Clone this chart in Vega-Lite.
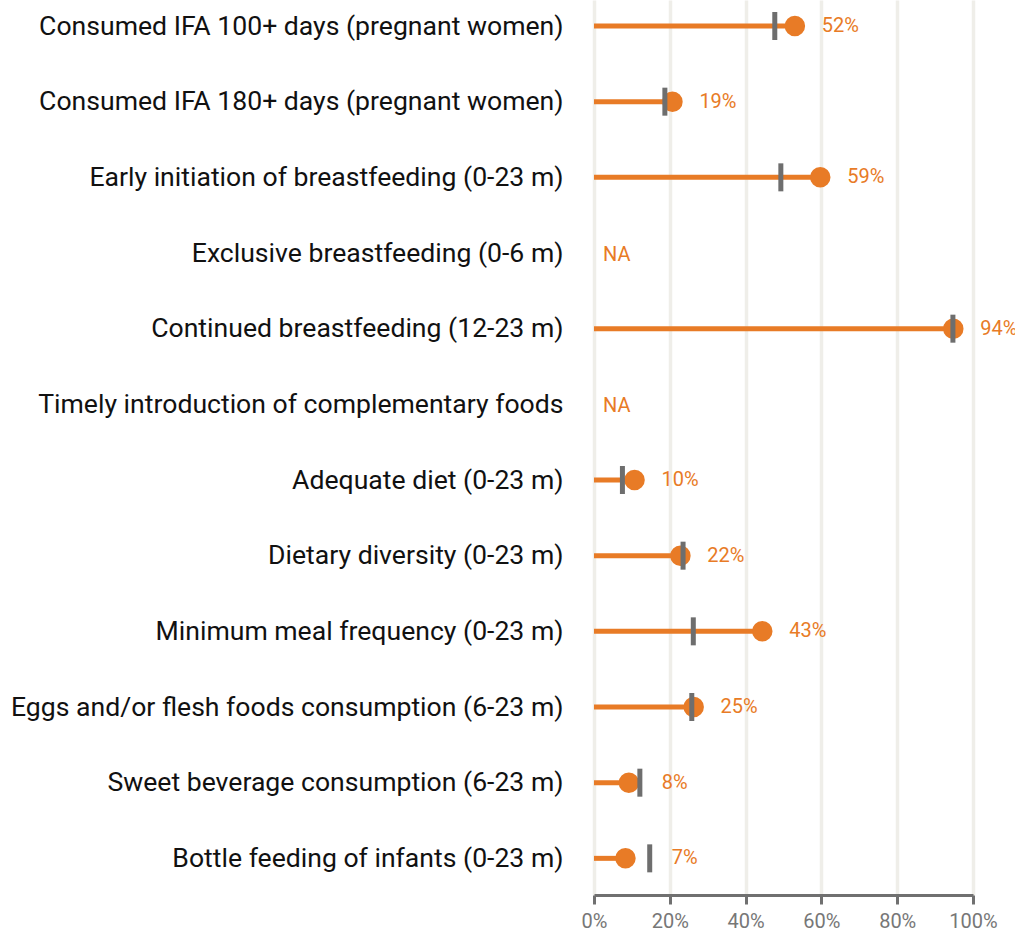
{
  "$schema": "https://vega.github.io/schema/vega-lite/v6.json",
  "width": 379,
  "height": 895,
  "autosize": {"type": "none"},
  "padding": {"left": 594, "top": 0, "right": 42, "bottom": 38},
  "background": "white",
  "config": {
    "font": "Roboto",
    "view": {"stroke": null}
  },
  "data": {
    "values": [
      {"indicator": "Consumed IFA 100+ days (pregnant women)", "value": 53.0, "bench": 47.7, "label": "52%"},
      {"indicator": "Consumed IFA 180+ days (pregnant women)", "value": 20.7, "bench": 18.7, "label": "19%"},
      {"indicator": "Early initiation of breastfeeding (0-23 m)", "value": 59.7, "bench": 49.3, "label": "59%"},
      {"indicator": "Exclusive breastfeeding (0-6 m)", "value": null, "bench": null, "label": "NA"},
      {"indicator": "Continued breastfeeding (12-23 m)", "value": 94.8, "bench": 94.7, "label": "94%"},
      {"indicator": "Timely introduction of complementary foods", "value": null, "bench": null, "label": "NA"},
      {"indicator": "Adequate diet (0-23 m)", "value": 10.7, "bench": 7.5, "label": "10%"},
      {"indicator": "Dietary diversity (0-23 m)", "value": 22.8, "bench": 23.5, "label": "22%"},
      {"indicator": "Minimum meal frequency (0-23 m)", "value": 44.4, "bench": 26.2, "label": "43%"},
      {"indicator": "Eggs and/or flesh foods consumption (6-23 m)", "value": 26.3, "bench": 25.8, "label": "25%"},
      {"indicator": "Sweet beverage consumption (6-23 m)", "value": 9.2, "bench": 12.1, "label": "8%"},
      {"indicator": "Bottle feeding of infants (0-23 m)", "value": 8.3, "bench": 14.7, "label": "7%"}
    ]
  },
  "transform": [
    {"calculate": "0", "as": "zero"},
    {"calculate": "isValid(datum.value) ? max(datum.value + 1.3, datum.bench) : 0", "as": "lx"}
  ],
  "encoding": {
    "y": {
      "field": "indicator",
      "type": "nominal",
      "sort": null,
      "scale": {
        "type": "point",
        "padding": 0.414,
        "align": 0.415,
        "domain": [
          "Consumed IFA 100+ days (pregnant women)",
          "Consumed IFA 180+ days (pregnant women)",
          "Early initiation of breastfeeding (0-23 m)",
          "Exclusive breastfeeding (0-6 m)",
          "Continued breastfeeding (12-23 m)",
          "Timely introduction of complementary foods",
          "Adequate diet (0-23 m)",
          "Dietary diversity (0-23 m)",
          "Minimum meal frequency (0-23 m)",
          "Eggs and/or flesh foods consumption (6-23 m)",
          "Sweet beverage consumption (6-23 m)",
          "Bottle feeding of infants (0-23 m)"
        ]
      },
      "axis": {
        "title": null,
        "domain": false,
        "ticks": false,
        "grid": false,
        "labelFontSize": 26.6,
        "labelColor": "#111111",
        "labelPadding": 31,
        "labelLimit": 0,
        "labelFont": "Roboto"
      }
    }
  },
  "layer": [
    {
      "transform": [{"filter": "isValid(datum.value)"}],
      "mark": {"type": "rule", "color": "#E87B26", "strokeWidth": 5},
      "encoding": {
        "x": {
          "field": "zero",
          "type": "quantitative",
          "scale": {"domain": [0, 100], "nice": false},
          "axis": {
            "title": null,
            "values": [0, 20, 40, 60, 80, 100],
            "labelExpr": "datum.value + '%'",
            "labelFontSize": 20,
            "labelFlush": false,
            "labelColor": "#777777",
            "labelPadding": 7,
            "domainColor": "#707070",
            "domainWidth": 3,
            "tickColor": "#707070",
            "tickWidth": 3,
            "tickSize": 9,
            "grid": true,
            "gridColor": "#EFEEE9",
            "gridWidth": 3.5
          }
        },
        "x2": {"field": "value"}
      }
    },
    {
      "transform": [{"filter": "isValid(datum.value)"}],
      "mark": {"type": "point", "shape": "circle", "filled": true, "opacity": 1, "color": "#E87B26", "size": 420},
      "encoding": {
        "x": {"field": "value", "type": "quantitative"}
      }
    },
    {
      "transform": [{"filter": "isValid(datum.bench)"}],
      "mark": {"type": "tick", "color": "#6E6E6E", "thickness": 5, "size": 28, "opacity": 1},
      "encoding": {
        "x": {"field": "bench", "type": "quantitative"}
      }
    },
    {
      "transform": [{"filter": "isValid(datum.value)"}],
      "mark": {"type": "text", "align": "left", "baseline": "middle", "dx": 22, "fontSize": 20, "color": "#E87B26"},
      "encoding": {
        "x": {"field": "lx", "type": "quantitative"},
        "text": {"field": "label"}
      }
    },
    {
      "transform": [{"filter": "!isValid(datum.value)"}],
      "mark": {"type": "text", "align": "left", "baseline": "middle", "dx": 9, "dy": 2, "fontSize": 20, "color": "#E87B26"},
      "encoding": {
        "x": {"field": "lx", "type": "quantitative"},
        "text": {"field": "label"}
      }
    }
  ]
}
